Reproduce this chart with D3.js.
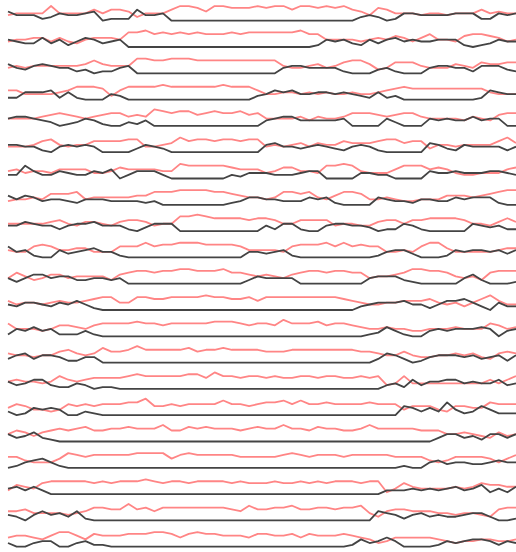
<!DOCTYPE html>
<html>
<head>
<meta charset="utf-8">
<script src="https://cdn.jsdelivr.net/npm/d3@7"></script>
<style>body{margin:0;background:#fff}</style>
</head>
<body>
<script>
var width = 516;
var height = 552;

// one row per strip, 60 samples each, levels 0..9
var red = [
  [3,4,4,4,4,8,4,4,4,4,6,4,6,6,5,2,4,4,4,6,8,8,7,5,8,8,7,7,7,8, 7,8,8,6,8,8,7,8,7,8,6,5,3,7,6,4,4,4,3,4,4,3,4,4,4,6,4,5,4,4],
  [3,4,4,5,5,3,5,3,2,4,5,5,5,4,8,8,9,7,8,7,8,7,8,7,7,7,8,7,8,8, 8,8,8,8,9,7,7,4,4,4,4,3,4,5,4,6,5,3,5,7,4,4,3,6,7,7,6,5,3,4],
  [3,4,3,4,4,4,4,4,4,5,7,5,4,4,4,8,8,7,7,8,8,8,7,7,7,7,7,7,7,7, 7,7,4,3,3,4,5,3,4,6,7,7,5,2,3,6,6,6,4,3,3,3,5,4,3,6,5,5,6,6],
  [5,5,3,3,3,3,4,5,7,7,7,6,2,5,7,7,7,7,8,7,7,7,7,7,7,8,7,7,7,5, 3,3,4,4,3,4,3,4,3,3,4,3,3,4,5,6,7,6,6,6,6,6,6,6,6,6,4,3,3,3],
  [4,4,4,4,5,6,7,6,5,4,5,6,7,7,5,6,5,9,8,7,8,8,6,7,8,7,7,8,6,7, 4,4,4,4,5,3,5,4,4,5,7,7,7,6,5,6,7,7,5,4,4,4,4,3,5,4,3,6,7,7],
  [3,3,3,4,6,7,4,3,4,4,6,6,6,6,7,7,3,3,4,5,8,6,7,7,6,7,7,6,7,7, 3,4,3,4,5,3,5,4,4,6,5,5,5,6,7,7,5,6,6,2,4,4,3,4,4,4,4,6,8,5],
  [4,5,3,4,4,3,5,5,5,5,3,3,4,6,5,5,5,5,4,4,8,7,7,7,7,7,6,5,5,5, 3,4,6,6,4,4,3,7,7,8,7,4,3,3,3,5,7,7,7,5,6,5,3,2,2,3,3,3,5,6],
  [2,3,3,4,3,6,6,6,7,3,4,4,4,4,4,5,5,7,7,7,8,8,8,8,7,7,6,5,4,4, 3,4,7,7,6,7,4,3,5,7,7,6,3,3,4,3,2,2,3,3,3,5,5,5,4,5,6,7,8,8],
  [4,4,4,4,4,5,6,4,3,5,5,4,3,5,6,6,5,3,4,4,8,8,9,8,7,7,7,7,6,7, 7,6,4,4,6,6,6,6,3,4,4,3,3,5,6,6,4,6,6,7,7,7,7,6,4,4,3,5,7,5],
  [4,3,3,6,7,6,4,4,5,5,3,3,3,6,6,6,8,6,7,7,8,8,8,7,7,7,7,6,4,4, 4,4,3,6,7,7,7,8,6,8,6,7,6,6,3,3,4,3,6,8,8,5,3,3,3,3,3,4,5,5],
  [3,6,4,2,3,5,5,3,4,4,4,4,2,5,6,7,7,6,7,7,8,8,7,7,7,8,6,6,5,4, 5,4,3,5,6,7,7,6,7,7,6,6,3,4,4,5,6,8,8,7,7,6,4,3,4,2,6,7,7,7],
  [5,3,4,4,3,4,5,4,4,5,6,7,7,4,4,7,7,6,6,7,7,7,7,8,7,7,6,6,7,5, 7,7,7,7,7,7,7,7,7,6,5,4,3,3,4,4,5,5,5,6,4,3,4,2,4,6,8,5,3,3],
  [7,4,4,4,3,4,6,6,5,4,6,7,7,7,7,8,7,7,6,7,7,7,7,7,8,8,8,7,6,7, 7,6,9,7,7,7,8,6,7,7,6,5,4,4,5,4,4,3,3,4,4,4,5,4,4,4,7,6,4,5],
  [5,4,4,3,4,4,6,7,5,4,5,8,6,6,7,9,7,7,7,7,7,8,6,7,7,8,7,7,7,7, 6,6,6,7,7,7,7,7,7,7,7,6,6,5,4,4,6,4,3,3,4,4,5,4,5,3,2,5,6,5],
  [4,5,4,4,3,4,7,5,4,5,6,6,6,6,7,8,7,7,7,7,7,8,8,6,9,7,7,6,7,7, 6,7,6,6,7,7,6,7,7,6,6,7,6,7,2,3,7,3,3,3,3,3,3,3,3,3,5,3,5,7],
  [4,6,5,3,3,2,3,6,5,6,5,6,6,6,7,7,9,5,5,6,5,6,6,6,6,8,6,6,5,6, 7,7,8,6,8,6,6,7,6,6,6,6,7,6,6,6,3,5,5,5,3,2,5,5,4,4,7,6,6,6],
  [4,6,5,3,5,6,7,6,7,8,6,6,7,7,8,7,7,7,9,6,6,8,7,8,7,7,7,6,7,8, 7,7,9,7,7,6,8,7,7,6,6,7,9,7,7,7,7,7,6,6,6,4,4,5,4,3,2,5,3,4],
  [6,6,4,3,3,3,5,8,7,6,7,7,7,7,7,8,8,8,8,5,7,8,7,7,7,7,7,6,6,6, 6,6,7,8,7,6,7,7,7,6,7,7,7,7,7,6,6,6,6,4,3,4,6,6,6,6,5,3,5,7],
  [2,5,4,3,6,7,7,7,7,7,6,7,6,7,7,7,8,7,6,7,7,6,7,7,7,7,6,7,6,6, 6,7,6,6,7,6,7,6,7,7,7,6,7,7,1,3,6,4,3,3,3,3,4,3,4,6,5,5,4,4],
  [5,5,6,4,4,4,4,3,4,5,7,7,6,6,9,6,7,5,7,7,7,7,7,7,7,7,6,5,8,6, 6,7,7,8,6,6,7,7,6,7,7,8,4,2,5,6,6,5,5,5,4,4,3,4,4,3,2,6,7,7],
  [5,6,6,5,4,6,8,8,6,4,7,6,6,6,7,7,7,8,8,7,5,7,8,7,7,6,6,6,5,7, 7,6,6,7,5,7,6,6,6,7,6,5,4,2,3,5,5,5,5,5,4,3,2,3,3,4,4,3,3,4]
];

var dark = [
  [5,3,3,3,1,2,4,3,3,4,5,0,1,1,1,6,3,3,4,0,0,0,0,0,0,0,0,0,0,0, 0,0,0,0,0,0,0,0,0,0,0,2,3,2,0,1,4,4,3,3,3,3,4,4,4,1,1,4,3,4],
  [4,3,2,2,5,2,4,1,3,5,4,2,3,4,0,0,0,0,0,0,0,0,0,0,0,0,0,0,0,0, 0,0,0,0,0,0,1,4,3,4,2,1,4,2,4,5,3,4,3,3,4,4,4,1,0,1,2,4,3,3],
  [5,3,2,4,5,4,3,3,1,2,0,1,1,3,4,0,0,0,0,0,0,0,0,0,0,0,0,0,0,0, 0,0,3,4,4,3,3,3,3,1,0,0,0,2,3,1,0,0,0,3,4,4,3,3,1,4,4,4,2,1],
  [1,1,4,4,4,5,1,4,1,0,0,0,3,2,0,0,0,0,0,0,0,0,0,0,0,0,0,0,0,2, 3,5,4,5,3,3,4,4,3,4,3,2,1,4,1,2,0,0,0,0,0,0,0,0,0,1,5,4,3,3],
  [4,5,5,4,3,2,0,1,2,4,3,1,0,0,2,1,3,0,0,0,0,0,0,0,0,0,0,0,0,0, 3,4,5,5,3,3,3,3,3,4,0,0,0,0,4,2,0,0,0,4,3,4,3,3,5,3,4,4,0,0],
  [4,4,3,3,1,0,3,4,3,4,3,0,0,0,0,2,4,3,2,0,0,0,0,0,0,0,0,0,0,0, 4,5,3,3,2,3,4,3,2,1,3,4,3,1,0,0,0,0,0,5,4,2,1,4,3,3,3,3,1,3],
  [2,2,7,4,2,2,4,3,2,2,4,3,5,0,2,4,4,4,2,0,0,0,0,0,0,0,2,1,3,3, 3,2,2,2,3,4,4,0,0,0,0,3,3,2,2,0,0,0,0,4,3,3,4,3,3,3,4,4,3,2],
  [5,3,5,4,2,3,3,2,1,3,3,3,2,2,2,2,1,2,0,0,0,0,0,0,0,0,1,2,4,4, 3,3,2,2,2,4,3,4,1,0,0,0,0,4,3,2,2,1,3,3,2,2,4,3,4,4,4,1,0,0],
  [3,3,5,4,3,3,1,3,4,4,5,3,3,3,1,0,2,4,4,4,0,0,0,0,0,0,0,0,0,0, 3,1,4,4,1,0,0,3,4,4,3,3,2,0,1,1,4,3,1,0,0,0,0,0,4,3,2,3,1,1],
  [6,3,4,1,0,0,4,2,3,4,5,3,3,1,0,0,0,0,0,0,0,0,0,0,0,0,0,0,3,3, 2,3,4,1,0,0,0,0,0,0,0,0,0,1,3,4,4,2,0,0,0,1,4,3,4,4,3,4,2,4],
  [3,1,3,5,5,3,4,4,2,2,3,3,2,3,0,0,0,0,0,0,0,0,0,0,0,0,0,0,2,4, 3,3,3,3,0,0,0,0,0,0,0,0,3,4,4,4,2,1,0,0,0,0,0,3,5,2,0,0,0,1],
  [3,2,4,4,3,2,4,3,5,3,1,0,0,0,0,0,0,0,0,0,0,0,0,0,0,0,0,0,0,0, 0,0,0,0,0,0,0,0,0,0,0,2,3,4,4,4,5,3,3,1,3,5,5,6,4,2,0,4,2,2],
  [1,4,3,5,3,4,1,1,1,3,1,0,0,0,0,0,0,0,0,0,0,0,0,0,0,0,0,0,0,0, 0,0,0,0,0,0,0,0,0,0,0,0,1,2,5,3,1,0,0,3,4,3,4,4,4,5,4,0,3,4],
  [2,4,5,2,4,4,3,1,1,3,3,0,0,0,0,0,0,0,0,0,0,0,0,0,0,0,0,0,0,0, 0,0,0,0,0,0,0,0,0,0,0,0,0,2,5,4,2,0,1,3,4,4,4,3,4,2,3,4,1,4],
  [4,2,3,5,5,2,1,1,3,2,0,1,1,0,0,0,0,0,0,0,0,0,0,0,0,0,0,0,0,0, 0,0,0,0,0,0,0,0,0,0,0,0,0,0,2,3,1,5,2,4,4,5,5,3,4,3,3,5,2,3],
  [2,0,1,4,3,4,3,0,0,2,1,0,0,0,0,0,0,0,0,0,0,0,0,0,0,0,0,0,0,0, 0,0,0,0,0,0,0,0,0,0,0,0,0,0,0,0,5,4,2,4,2,7,3,1,2,5,3,1,1,1],
  [4,2,3,5,2,1,0,0,0,0,0,0,0,0,0,0,0,0,0,0,0,0,0,0,0,0,0,0,0,0, 0,0,0,0,0,0,0,0,0,0,0,0,0,0,0,0,0,0,0,0,2,4,4,2,3,1,4,4,2,4],
  [0,1,3,4,5,3,1,0,0,0,0,0,0,0,0,0,0,0,0,0,0,0,0,0,0,0,0,0,0,0, 0,0,0,0,0,0,0,0,0,0,0,0,0,0,0,0,1,0,0,3,4,2,3,3,2,2,3,4,3,3],
  [3,4,2,4,2,0,0,0,0,0,0,0,0,0,0,0,0,0,0,0,0,0,0,0,0,0,0,0,0,0, 0,0,0,0,0,0,0,0,0,0,0,0,0,0,2,2,2,3,2,3,2,3,4,2,3,5,1,3,1,4],
  [3,2,0,3,5,3,4,2,5,1,0,0,0,0,0,0,0,0,0,0,0,0,0,0,0,0,0,0,0,0, 0,0,0,0,0,0,0,0,0,0,0,0,0,5,4,3,1,3,4,2,3,2,2,3,4,4,2,0,0,1],
  [2,0,0,2,3,3,0,0,2,3,1,1,0,0,0,0,0,0,0,0,0,0,0,0,0,0,0,0,0,0, 0,0,0,0,0,0,0,0,0,0,1,4,2,3,5,3,0,0,0,0,1,3,2,3,4,4,3,1,3,2]
];

var svg = d3.select('body').append('svg')
    .attr('width', width)
    .attr('height', height)

var x = d3.scaleLinear().domain([0, 59]).range([8, 516])
var row = d3.scaleLinear().domain([0, red.length - 1]).range([20.7, 546.7])
var amp = d3.scaleLinear().domain([0, 9]).range([0, 16.5])

function lineFor(k){
    return d3.line()
        .x((d, i) => x(i))
        .y(d => row(k) - amp(d))
}

var rows = svg.append('g')
    .selectAll('g')
    .data(d3.range(red.length))
    .enter()
    .append('g')

rows.append('path')
    .attr('d', k => lineFor(k)(red[k]))
    .attr('fill', 'none')
    .attr('stroke', '#ff8585')
    .attr('stroke-width', 1.8)
    .attr('stroke-linejoin', 'round')

rows.append('path')
    .attr('d', k => lineFor(k)(dark[k]))
    .attr('fill', 'none')
    .attr('stroke', '#444')
    .attr('stroke-width', 1.8)
    .attr('stroke-linejoin', 'round')
</script>
</body>
</html>
